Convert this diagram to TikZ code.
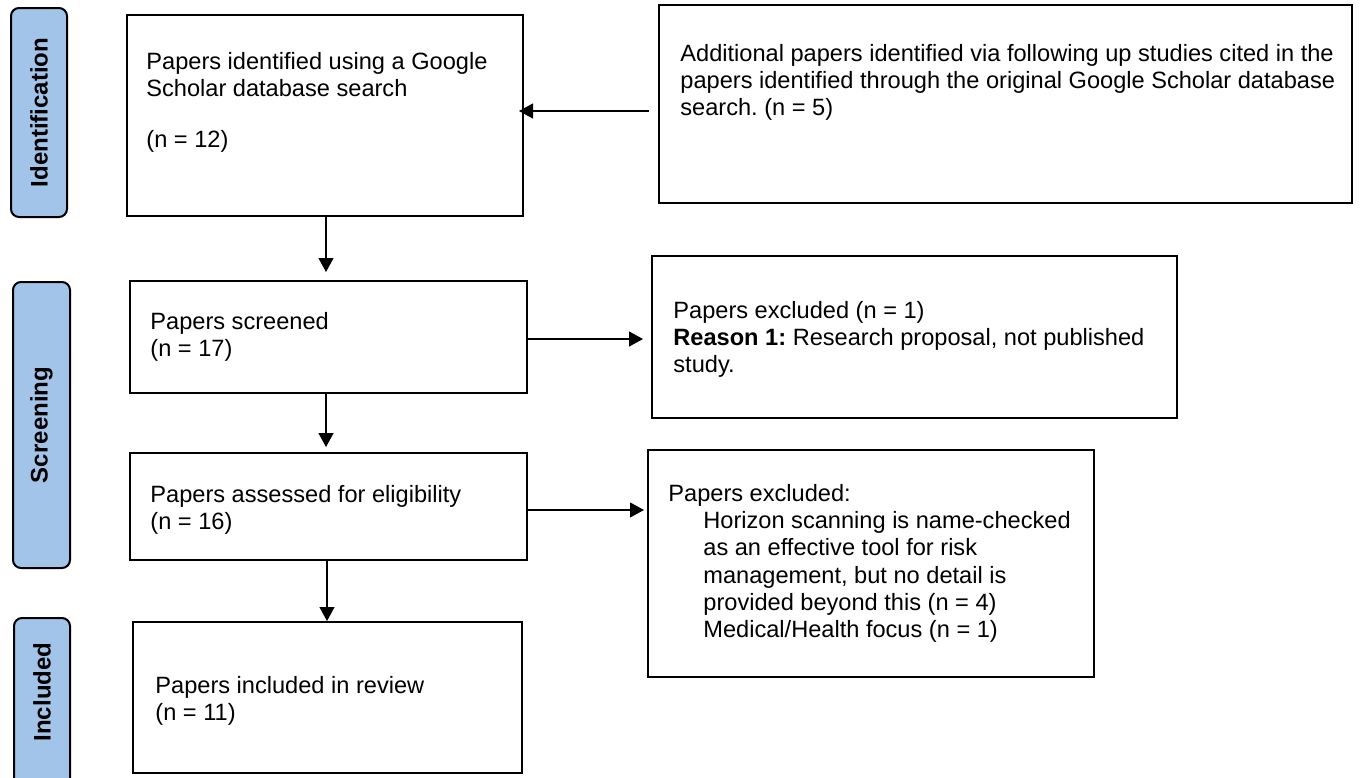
\documentclass[tikz,border=0pt]{standalone}
\usepackage{fontspec}
\setmainfont{Liberation Sans}
\usetikzlibrary{fit,arrows.meta}
\definecolor{pillblue}{RGB}{162,196,232}
\frenchspacing
\begin{document}
\begin{tikzpicture}[x=0.5pt,y=-0.5pt,
  box/.style={draw=black, line width=1pt, inner sep=0pt, fill=white},
  pill/.style={draw=black, line width=1pt, fill=pillblue, rounded corners=4pt, inner sep=0pt},
  lbl/.style={font=\bfseries\fontsize{12}{14}\selectfont, rotate=90, inner sep=0pt},
  txt/.style={font=\fontsize{11.8}{13.6}\selectfont\frenchspacing, align=left, anchor=north west, inner sep=0pt},
  arr/.style={-{Triangle[length=7pt,width=7.5pt]}, line width=0.6pt},
]
\fill[white] (0,0) rectangle (1360,777);
\useasboundingbox (0,0) rectangle (1360,777);

% phase pills
\node[pill, fit={(11,8) (67,217)}] (p1) {};
\node[lbl] (l1) at (p1.center) {Identification};
\node[pill, fit={(13,282) (70,568)}] (p2) {};
\node[lbl] (l2) at (p2.center) {Screening};
\node[pill, fit={(14,618) (70,790)}] (p3) {};
\node[lbl] (l3) at (42,692) {Included};

% boxes
\node[box, fit={(127,15) (523,216)}] (b1) {};
\node[box, fit={(659,5) (1352,203)}] (b2) {};
\node[box, fit={(130,281) (527,393)}] (b3) {};
\node[box, fit={(652,256) (1177,418)}] (e1) {};
\node[box, fit={(130,453) (527,560)}] (b4) {};
\node[box, fit={(648,450) (1094,677)}] (e2) {};
\node[box, fit={(133,622) (522,773)}] (b5) {};

% texts
\node[txt] (t1) at (146,52) {Papers identified using a Google\\Scholar database search\\[12pt](n = 12)};
\node[txt] (t2) at (680,44) {Additional papers identified via following up studies cited in the\\papers identified through the original Google Scholar database\\search. (n = 5)};
\node[txt] (t3) at (150,312) {Papers screened\\(n = 17)};
\node[txt] (t4) at (150,485) {Papers assessed for eligibility\\(n = 16)};
\node[txt] (t5) at (155,676) {Papers included in review\\(n = 11)};
\node[txt] (t6) at (673,301) {Papers excluded (n = 1)\\\textbf{Reason 1:} Research proposal, not published\\study.};
\node[txt] (t7) at (668,484) {Papers excluded:\\\hspace*{17.5pt}Horizon scanning is name-checked\\\hspace*{17.5pt}as an effective tool for risk\\\hspace*{17.5pt}management, but no detail is\\\hspace*{17.5pt}provided beyond this (n = 4)\\\hspace*{17.5pt}Medical/Health focus (n = 1)};

% helper coordinates
\coordinate (ya) at (0,111);
\coordinate (yb) at (0,339);
\coordinate (yc) at (0,510);
\coordinate (xa) at (326,0);
\coordinate (xb) at (327,0);

% connectors
\draw[arr, shorten <=4.5pt, shorten >=-2.5pt] (b2.west |- ya) -- (b1.east |- ya);
\draw[arr, shorten >=4pt] (b1.south -| xa) -- (b3.north -| xa);
\draw[arr, shorten >=4pt] (b3.east |- yb) -- (e1.west |- yb);
\draw[arr, shorten >=2.5pt] (b3.south -| xa) -- (b4.north -| xa);
\draw[arr, shorten >=1.5pt] (b4.east |- yc) -- (e2.west |- yc);
\draw[arr] (b4.south -| xb) -- (b5.north -| xb);
\end{tikzpicture}
\end{document}
